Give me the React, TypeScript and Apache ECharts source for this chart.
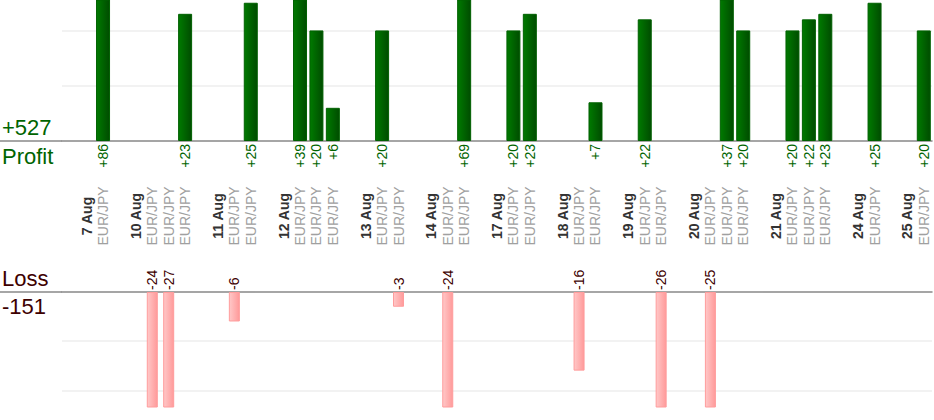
import React, { useEffect, useRef } from "react";
import * as echarts from "echarts";

const days = ["7 Aug", "10 Aug", "11 Aug", "12 Aug", "13 Aug", "14 Aug", "17 Aug", "18 Aug", "19 Aug", "20 Aug", "21 Aug", "24 Aug", "25 Aug"];
const pair = "EUR/JPY";
const trades: number[][] = [
  [86],
  [-24, -27, 23],
  [-6, 25],
  [39, 20, 6],
  [20, -3],
  [-24, 69],
  [20, 23],
  [-16, 7],
  [22, -26],
  [-25, 37, 20],
  [20, 22, 23],
  [25],
  [20],
];

// build slot table: leading empty slot, then per day: date, trades, gap
const slotLabels: string[] = [""];
const slotKinds: string[] = ["gap"];
const slotValues: (number | null)[] = [null];
days.forEach((d, i) => {
  slotLabels.push(d);
  slotKinds.push("day");
  slotValues.push(null);
  trades[i].forEach((v) => {
    slotLabels.push(pair);
    slotKinds.push("trade");
    slotValues.push(v);
  });
  if (i < days.length - 1) {
    slotLabels.push("");
    slotKinds.push("gap");
    slotValues.push(null);
  }
});

const profitData = slotValues.map((v) => (v !== null && v > 0 ? v : "-"));
const lossData = slotValues.map((v) => (v !== null && v < 0 ? -v : "-"));
const totalProfit = slotValues.reduce((s: number, v) => s + (v !== null && v > 0 ? v : 0), 0);
const totalLoss = slotValues.reduce((s: number, v) => s + (v !== null && v < 0 ? v : 0), 0);

const FONT = "'Liberation Sans', Arial, Helvetica, sans-serif";
const GREEN_TEXT = "#006400";
const LOSS_TEXT = "#3d0000";

export default function App() {
  const ref = useRef<HTMLDivElement>(null);
  useEffect(() => {
    if (!ref.current) return;
    const chart = echarts.init(ref.current, null, { renderer: "svg" });
    const gridLeft = 62;
    const gridRight = 2;
    const topGrid = { left: gridLeft, right: gridRight, top: 0, height: 141 };
    const botGrid = { left: gridLeft, right: gridRight, top: 292, height: 115 };
    chart.setOption({
      animation: false,
      textStyle: { fontFamily: FONT },
      grid: [topGrid, botGrid],
      xAxis: [
        {
          type: "category",
          gridIndex: 0,
          data: slotLabels,
          boundaryGap: true,
          axisTick: { show: false },
          axisLine: { show: true, lineStyle: { color: "#888888", width: 1.5 } },
          axisLabel: {
            interval: 0,
            rotate: 90,
            margin: 75,
            align: "center",
            verticalAlign: "middle",
            formatter: (val: string, idx: number) =>
              slotKinds[idx] === "day" ? `{d|${val}}` : slotKinds[idx] === "trade" ? `{p|${val}}` : "",
            rich: {
              d: { fontFamily: FONT, fontSize: 14, fontWeight: "bold", color: "#333333" },
              p: { fontFamily: FONT, fontSize: 14, color: "#a0a0a0" },
            },
          },
          splitLine: { show: false },
        },
        {
          type: "category",
          gridIndex: 1,
          data: slotLabels,
          position: "top",
          boundaryGap: true,
          axisTick: { show: false },
          axisLabel: { show: false },
          axisLine: { show: true, lineStyle: { color: "#888888", width: 1.5 } },
          splitLine: { show: false },
        },
      ],
      yAxis: [
        {
          type: "value",
          gridIndex: 0,
          min: 0,
          max: 25.5,
          interval: 10,
          axisLabel: { show: false },
          axisLine: { show: false },
          axisTick: { show: false },
          splitLine: { show: true, showMinLine: false, showMaxLine: false, lineStyle: { color: "#eeeeee", width: 1.5 } },
        },
        {
          type: "value",
          gridIndex: 1,
          min: 0,
          max: 23.4,
          interval: 10,
          inverse: true,
          axisLabel: { show: false },
          axisLine: { show: false },
          axisTick: { show: false },
          splitLine: { show: true, showMinLine: false, showMaxLine: false, lineStyle: { color: "#eeeeee", width: 1.5 } },
        },
      ],
      series: [
        {
          type: "bar",
          xAxisIndex: 0,
          yAxisIndex: 0,
          data: profitData,
          barWidth: 14,
          clip: true,
          itemStyle: {
            color: new echarts.graphic.LinearGradient(0, 0, 1, 0, [
              { offset: 0, color: "#007a00" },
              { offset: 1, color: "#004c00" },
            ]),
            borderColor: "#006000",
            borderWidth: 1,
          },
          label: {
            show: true,
            position: "bottom",
            distance: 3,
            rotate: 90,
            align: "right",
            verticalAlign: "middle",
            fontSize: 14,
            fontFamily: FONT,
            color: GREEN_TEXT,
            formatter: (p: any) => "+" + p.value,
          },
        },
        {
          type: "bar",
          xAxisIndex: 1,
          yAxisIndex: 1,
          data: lossData,
          barWidth: 11,
          clip: true,
          itemStyle: {
            color: new echarts.graphic.LinearGradient(0, 0, 1, 0, [
              { offset: 0, color: "#ffc8c8" },
              { offset: 1, color: "#ff9a9a" },
            ]),
            borderColor: "#ff9c9c",
            borderWidth: 1,
          },
          label: {
            show: true,
            position: "top",
            distance: 2,
            rotate: 90,
            align: "left",
            verticalAlign: "middle",
            fontSize: 14,
            fontFamily: FONT,
            color: LOSS_TEXT,
            formatter: (p: any) => "-" + p.value,
          },
        },
      ],
      graphic: [
        { type: "line", shape: { x1: 0, y1: 141, x2: gridLeft, y2: 141 }, style: { stroke: "#888888", lineWidth: 1.5 } },
        { type: "line", shape: { x1: 0, y1: 292, x2: gridLeft, y2: 292 }, style: { stroke: "#888888", lineWidth: 1.5 } },
        {
          type: "text",
          left: 2,
          top: 116,
          style: { text: "+" + totalProfit, fontSize: 22, fontFamily: FONT, fill: GREEN_TEXT },
        },
        {
          type: "text",
          left: 2,
          top: 145,
          style: { text: "Profit", fontSize: 22, fontFamily: FONT, fill: GREEN_TEXT },
        },
        {
          type: "text",
          left: 2,
          top: 267,
          style: { text: "Loss", fontSize: 22, fontFamily: FONT, fill: LOSS_TEXT },
        },
        {
          type: "text",
          left: 2,
          top: 295,
          style: { text: String(totalLoss), fontSize: 22, fontFamily: FONT, fill: LOSS_TEXT },
        },
      ],
    });
    return () => chart.dispose();
  }, []);
  return <div ref={ref} style={{ position: "fixed", left: 0, top: 0, width: 934, height: 420, background: "#ffffff" }} />;
}
